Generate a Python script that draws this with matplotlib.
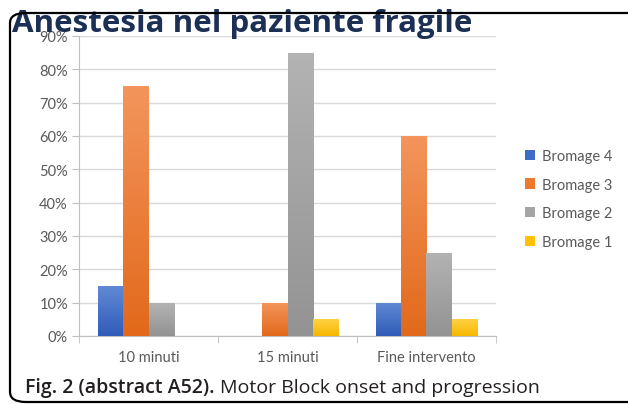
import numpy as np
import matplotlib
matplotlib.use("Agg")
import matplotlib.pyplot as plt
from matplotlib.patches import FancyBboxPatch
from matplotlib.colors import LinearSegmentedColormap

# data
categories = ["10 minuti", "15 minuti", "Fine intervento"]
series = ["Bromage 4", "Bromage 3", "Bromage 2", "Bromage 1"]
bromage4 = [15, 0, 10]
bromage3 = [75, 10, 60]
bromage2 = [10, 85, 25]
bromage1 = [0, 5, 5]
y_ticks = [0, 10, 20, 30, 40, 50, 60, 70, 80, 90]

values = [bromage4, bromage3, bromage2, bromage1]
# (top colour, bottom colour) for the excel-like gradient
colors = [("#6189d4", "#2f5cb8"), ("#f3955c", "#e2691b"),
          ("#b3b3b3", "#939393"), ("#ffd143", "#f6b700")]
legend_colors = ["#3e6cc4", "#ec7a2e", "#a5a5a5", "#fec107"]
label_col = "#595959"

fig = plt.figure(figsize=(6.28, 4.06), dpi=100)
ax = fig.add_axes([79 / 628, 1 - 337 / 406, 417 / 628, 300 / 406])

x = np.arange(len(categories))
w = 0.18
for i, vals in enumerate(values):
    bars = ax.bar(x + (i - 1.5) * w, vals, w, color=legend_colors[i], zorder=3, label=series[i])
    cmap = LinearSegmentedColormap.from_list("g%d" % i, [colors[i][1], colors[i][0]])
    for b in bars:
        if b.get_height() <= 0:
            continue
        x0, y0 = b.get_x(), b.get_y()
        grad = np.linspace(0, 1, 64).reshape(-1, 1)
        im = ax.imshow(grad, cmap=cmap, origin="lower", aspect="auto",
                       extent=[x0, x0 + b.get_width(), y0, y0 + b.get_height()], zorder=4)
        im.set_clip_path(b)

ax.set_xlim(-0.5, 2.5)
ax.set_ylim(0, 90)
ax.set_yticks(y_ticks)
ax.set_yticklabels([f"{t}%" for t in y_ticks])
ax.set_xticks(x)
ax.set_xticklabels(categories)
ax.set_xticks([-0.5, 0.5, 1.5, 2.5], minor=True)
ax.tick_params(axis="x", which="major", length=0, pad=10, labelsize=10.5, labelcolor=label_col)
ax.tick_params(axis="x", which="minor", length=5, color="#bfbfbf")
ax.tick_params(axis="y", length=5, color="#bfbfbf", pad=3, labelsize=10.5, labelcolor=label_col)
for lab in ax.get_xticklabels() + ax.get_yticklabels():
    lab.set_family("Lato")
ax.grid(axis="y", color="#d9d9d9", lw=1, zorder=0)
for s in ["top", "right"]:
    ax.spines[s].set_visible(False)
ax.spines["left"].set_color("#bfbfbf")
ax.spines["bottom"].set_color("#bfbfbf")

leg = fig.legend(loc="upper left", bbox_to_anchor=(512 / 628, 1 - 137 / 406), frameon=False,
                 handlelength=0.7, handleheight=0.7, handletextpad=0.45, labelspacing=1.0,
                 prop={"family": "Lato", "size": 10.5})
for t in leg.get_texts():
    t.set_color(label_col)

# header / caption
fig.text(12 / 628, 1 - 32 / 406, "Anestesia nel paziente fragile", fontsize=22.5, fontweight="bold",
         family="Open Sans", color="#1c2f55", va="baseline")
frame = FancyBboxPatch((10 / 628, 3 / 406), 1.1, 1 - 17 / 406,
                       boxstyle="round,pad=0,rounding_size=0.025", transform=fig.transFigure,
                       fill=False, ec="black", lw=1.6, zorder=10)
fig.patches.append(frame)

cap_y = 1 - 393 / 406
bold = fig.text(25 / 628, cap_y, "Fig. 2 (abstract A52).", fontsize=14, fontweight="semibold",
                family="Open Sans", color="#231f20", va="baseline")
renderer = fig.canvas.get_renderer()
bb = bold.get_window_extent(renderer=renderer)
fig.text((bb.x1 + 5) / 628, cap_y, "Motor Block onset and progression", fontsize=14,
         family="Open Sans", color="#231f20", va="baseline")

fig.savefig("out.png", dpi=100)
